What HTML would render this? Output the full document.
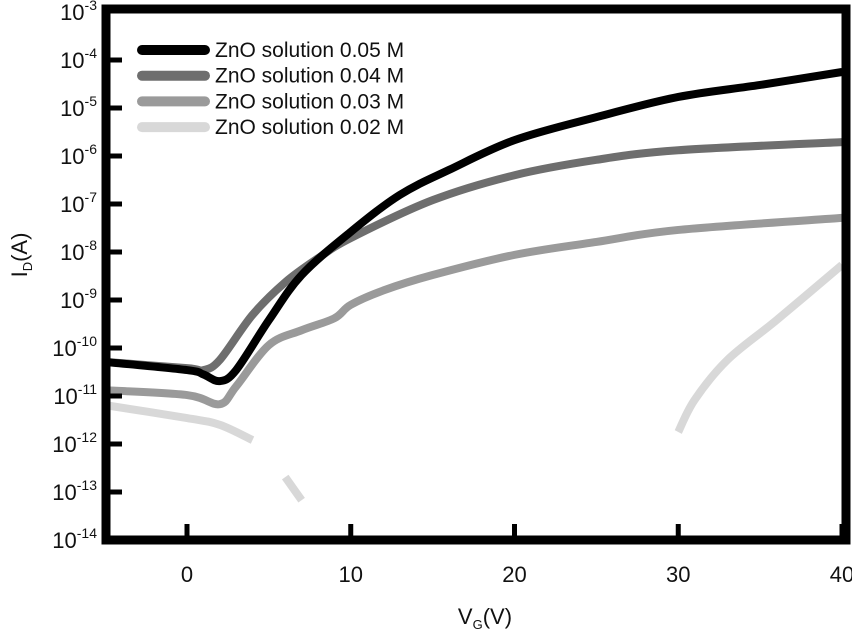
<!DOCTYPE html>
<html><head><meta charset="utf-8"><style>
body{margin:0;background:#fff;}
svg{display:block;font-family:"Liberation Sans",sans-serif;}
</style></head><body>
<svg id="chart" width="852" height="634"></svg>
<script>
const xTicks=[0,10,20,30,40];
const yExps=[-14,-13,-12,-11,-10,-9,-8,-7,-6,-5,-4,-3];
const seriesNames=["ZnO solution 0.05 M","ZnO solution 0.04 M","ZnO solution 0.03 M","ZnO solution 0.02 M"];
const seriesColors=["#000000","#6e6e6e","#9a9a9a","#d8d8d8"];
const s005=[[-5,-10.29],[0,-10.46],[1,-10.55],[2,-10.69],[3,-10.46],[5,-9.42],[7,-8.48],[10,-7.58],[13,-6.81],[16,-6.29],[20,-5.67],[25,-5.19],[30,-4.77],[35,-4.52],[40,-4.25]];
const s004=[[-5,-10.29],[0,-10.42],[1,-10.46],[2,-10.25],[4,-9.31],[6,-8.63],[8,-8.13],[10,-7.71],[15,-6.92],[20,-6.40],[25,-6.08],[30,-5.88],[40,-5.71]];
const s003=[[-5,-10.88],[0,-10.98],[2,-11.17],[3,-10.8],[5,-9.94],[7,-9.63],[9,-9.38],[10,-9.1],[12,-8.8],[15,-8.48],[20,-8.06],[25,-7.79],[30,-7.54],[40,-7.29]];
const s002a=[[-5,-11.19],[0,-11.46],[2,-11.6],[4,-11.92]];
const s002b=[[6,-12.69],[7,-13.17]];
const s002c=[[30,-11.75],[31,-11.08],[33,-10.25],[36,-9.42],[40,-8.27]];
const NS="http://www.w3.org/2000/svg";
const svg=document.getElementById('chart');
const X=v=>187+v*16.375;
const Y=e=>540-(e+14)*48;
function mk(t,a,p){const el=document.createElementNS(NS,t);for(const k in a)el.setAttribute(k,a[k]);(p||svg).appendChild(el);return el;}
function smooth(pts){
  const P=pts.map(p=>[X(p[0]),Y(p[1])]);
  let d='M'+P[0][0]+','+P[0][1];
  for(let i=0;i<P.length-1;i++){
    const p0=P[i-1]||P[i],p1=P[i],p2=P[i+1],p3=P[i+2]||p2;
    const c1=[p1[0]+(p2[0]-p0[0])/6,p1[1]+(p2[1]-p0[1])/6];
    const c2=[p2[0]-(p3[0]-p1[0])/6,p2[1]-(p3[1]-p1[1])/6];
    d+=' C'+c1[0]+','+c1[1]+' '+c2[0]+','+c2[1]+' '+p2[0]+','+p2[1];
  }
  return d;
}
function line(pts,color,name){
  const el=mk('path',{d:smooth(pts),fill:'none',stroke:color,'stroke-width':8,'stroke-linejoin':'round'});
  
  
}
line(s002a,seriesColors[3],'series-002m-a');
line(s002b,seriesColors[3],'series-002m-b');
line(s002c,seriesColors[3],'series-002m-c');
line(s003,seriesColors[2],'series-003m');
line(s004,seriesColors[1],'series-004m');
line(s005,seriesColors[0],'series-005m');
const fr=mk('rect',{x:106,y:9,width:740,height:531,fill:'none',stroke:'#000','stroke-width':9});


yExps.forEach(e=>{
  if(e>-14&&e<-3){const t=mk('line',{x1:110,x2:122,y1:Y(e),y2:Y(e),stroke:'#000','stroke-width':5});
  
  }
  const tx=mk('text',{x:97,y:Y(e)+8,'text-anchor':'end','font-size':22,fill:'#111'});
  
  
  tx.textContent='10';
  const sp=mk('tspan',{dy:-10,'font-size':14},tx);sp.textContent=String(e);
});
xTicks.forEach(v=>{
  const t=mk('line',{x1:X(v),x2:X(v),y1:536,y2:524,stroke:'#000','stroke-width':5});
  
  
  const tx=mk('text',{x:X(v),y:582,'text-anchor':'middle','font-size':22,fill:'#111'});
  
  
  tx.textContent=v;
});
const xt=mk('text',{x:485,y:624,'text-anchor':'middle','font-size':22,fill:'#111'});


xt.innerHTML='V<tspan font-size="13" dy="5">G</tspan><tspan dy="-5">(V)</tspan>';
const yt=mk('text',{x:0,y:0,'text-anchor':'middle','font-size':22,fill:'#111',transform:'translate(27,255) rotate(-90)'});


yt.innerHTML='I<tspan font-size="13" dy="5">D</tspan><tspan dy="-5">(A)</tspan>';
seriesNames.forEach((n,i)=>{
  const y=50+i*25.7;
  const g=mk('g',{});
  
  
  mk('line',{x1:142,x2:205,y1:y,y2:y,stroke:seriesColors[i],'stroke-width':10,'stroke-linecap':'round'},g);
  const t=mk('text',{x:215,y:y+7,'font-size':21,fill:'#111'},g);t.textContent=n;
});
</script>
</body></html>
